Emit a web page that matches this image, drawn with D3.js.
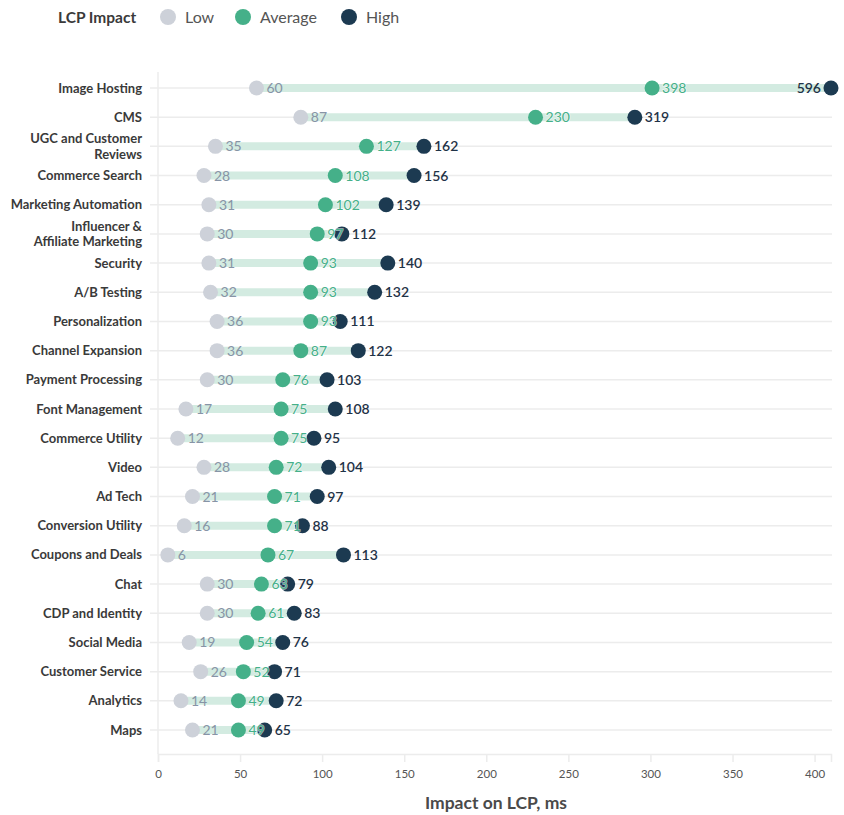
<!DOCTYPE html>
<html>
<head>
<meta charset="utf-8">
<script src="https://cdn.jsdelivr.net/npm/d3@7"></script>
<style>
  body { margin: 0; background: #fff; }
  svg { font-family: Lato, "Open Sans", sans-serif; }
</style>
</head>
<body>
<svg id="chart" width="844" height="815"></svg>
<script>
// categories (top to bottom)
var categories = ['Image Hosting', 'CMS', 'UGC and Customer Reviews', 'Commerce Search',
  'Marketing Automation', 'Influencer & Affiliate Marketing', 'Security', 'A/B Testing',
  'Personalization', 'Channel Expansion', 'Payment Processing', 'Font Management',
  'Commerce Utility', 'Video', 'Ad Tech', 'Conversion Utility', 'Coupons and Deals',
  'Chat', 'CDP and Identity', 'Social Media', 'Customer Service', 'Analytics', 'Maps'];
var lowValues = [60, 87, 35, 28, 31, 30, 31, 32, 36, 36, 30, 17, 12, 28, 21, 16, 6, 30, 30, 19, 26, 14, 21];
var avgValues = [398, 230, 127, 108, 102, 97, 93, 93, 93, 87, 76, 75, 75, 72, 71, 71, 67, 63, 61, 54, 52, 49, 49];
var highValues = [596, 319, 162, 156, 139, 112, 140, 132, 111, 122, 103, 108, 95, 104, 97, 88, 113, 79, 83, 76, 71, 72, 65];
var xTicks = [0, 50, 100, 150, 200, 250, 300, 350, 400];
var legendItems = ['Low', 'Average', 'High'];

// two-line label splits
var labelLines = {
  'UGC and Customer Reviews': ['UGC and Customer', 'Reviews'],
  'Influencer & Affiliate Marketing': ['Influencer &', 'Affiliate Marketing']
};

var colLow = '#cdd1d9', colAvg = '#45b089', colHigh = '#1c3a51';
var txtLow = '#8794a6', txtAvg = '#45b089', txtHigh = '#1f3347';

var svg = d3.select('#chart');

// axis scale and the compressed scale used for the long tail above 250
var xAxis = d3.scaleLinear().domain([0, 410]).range([158, 831]);
var x = d3.scaleLinear().domain([0, 250, 319, 398, 596])
  .range([0, 250, 290.5, 301, 410].map(xAxis));
var y = d3.scalePoint().domain(categories).range([88, 730]);

var rows = categories.map(function(c, i) {
  return {name: c, low: lowValues[i], avg: avgValues[i], high: highValues[i]};
});

// grid
svg.append('g').selectAll('line').data(categories).enter().append('line')
  .attr('x1', 150).attr('x2', 832)
  .attr('y1', d => y(d)).attr('y2', d => y(d))
  .attr('stroke', '#ececec').attr('stroke-width', 1.5);
svg.append('line')
  .attr('x1', xAxis(0)).attr('x2', xAxis(0)).attr('y1', 72).attr('y2', 754)
  .attr('stroke', '#ececec').attr('stroke-width', 1.5);

// x axis
var axisG = svg.append('g').attr('transform', 'translate(0,754)')
  .call(d3.axisBottom(xAxis).tickValues(xTicks).tickSize(8).tickPadding(8));
axisG.select('.domain').attr('stroke', '#ececec').attr('stroke-width', 1.5);
axisG.selectAll('.tick line').attr('stroke', '#ececec').attr('stroke-width', 1.5);
axisG.selectAll('.tick text').attr('fill', '#555').attr('font-size', 11.5)
  .attr('font-family', 'Lato, sans-serif');

svg.append('text').text('Impact on LCP, ms')
  .attr('x', 496).attr('y', 809).attr('text-anchor', 'middle')
  .attr('font-size', 17.5).attr('font-weight', 700).attr('fill', '#4a4a4a');

// row labels
var lab = svg.append('g').selectAll('text').data(categories).enter().append('text')
  .attr('text-anchor', 'end').attr('font-size', 13).attr('font-weight', 700)
  .attr('fill', '#3a3a3a');
lab.each(function(d) {
  var lines = labelLines[d] || [d];
  var t = d3.select(this);
  lines.forEach(function(l, i) {
    t.append('tspan').text(l).attr('x', 142)
      .attr('y', y(d) + 4.5 + (i - (lines.length - 1) / 2) * 15.5);
  });
});

// bars
svg.append('g').selectAll('line').data(rows).enter().append('line')
  .attr('x1', d => x(d.low)).attr('x2', d => x(d.high))
  .attr('y1', d => y(d.name)).attr('y2', d => y(d.name))
  .attr('stroke', '#d3ebe1').attr('stroke-width', 8);

// dots and labels
var g = svg.append('g');
g.selectAll('.low').data(rows).enter().append('circle')
  .attr('cx', d => x(d.low)).attr('cy', d => y(d.name)).attr('r', 7.5).attr('fill', colLow);
g.selectAll('.lowt').data(rows).enter().append('text')
  .text(d => d.low).attr('x', d => x(d.low) + 10).attr('y', d => y(d.name) + 5)
  .attr('font-size', 14).attr('fill', txtLow);
g.selectAll('.high').data(rows).enter().append('circle')
  .attr('cx', d => x(d.high)).attr('cy', d => y(d.name)).attr('r', 7.5).attr('fill', colHigh);
g.selectAll('.avg').data(rows).enter().append('circle')
  .attr('cx', d => x(d.avg)).attr('cy', d => y(d.name)).attr('r', 7.5).attr('fill', colAvg);
g.selectAll('.avgt').data(rows).enter().append('text')
  .text(d => d.avg).attr('x', d => x(d.avg) + 10).attr('y', d => y(d.name) + 5)
  .attr('font-size', 14).attr('fill', txtAvg)
  .attr('stroke', '#fff').attr('stroke-width', 1.5).attr('stroke-opacity', 0.6)
  .attr('paint-order', 'stroke');
g.selectAll('.hight').data(rows).enter().append('text')
  .text(d => d.high)
  .attr('x', d => x(d.high) > 800 ? x(d.high) - 10 : x(d.high) + 10)
  .attr('text-anchor', d => x(d.high) > 800 ? 'end' : 'start')
  .attr('y', d => y(d.name) + 5)
  .attr('font-size', 14).attr('font-weight', 600).attr('fill', txtHigh);

// legend
var leg = svg.append('g');
leg.append('text').text('LCP Impact').attr('x', 58).attr('y', 22.5)
  .attr('font-size', 15.5).attr('font-weight', 700).attr('fill', '#3a3a3a');
var legX = [168, 243, 349];
var legCol = [colLow, colAvg, colHigh];
legendItems.forEach(function(name, i) {
  leg.append('circle').attr('cx', legX[i]).attr('cy', 17).attr('r', 8).attr('fill', legCol[i]);
  leg.append('text').text(name).attr('x', legX[i] + 17).attr('y', 22.5)
    .attr('font-size', 16).attr('fill', '#555');
});
</script>
</body>
</html>
